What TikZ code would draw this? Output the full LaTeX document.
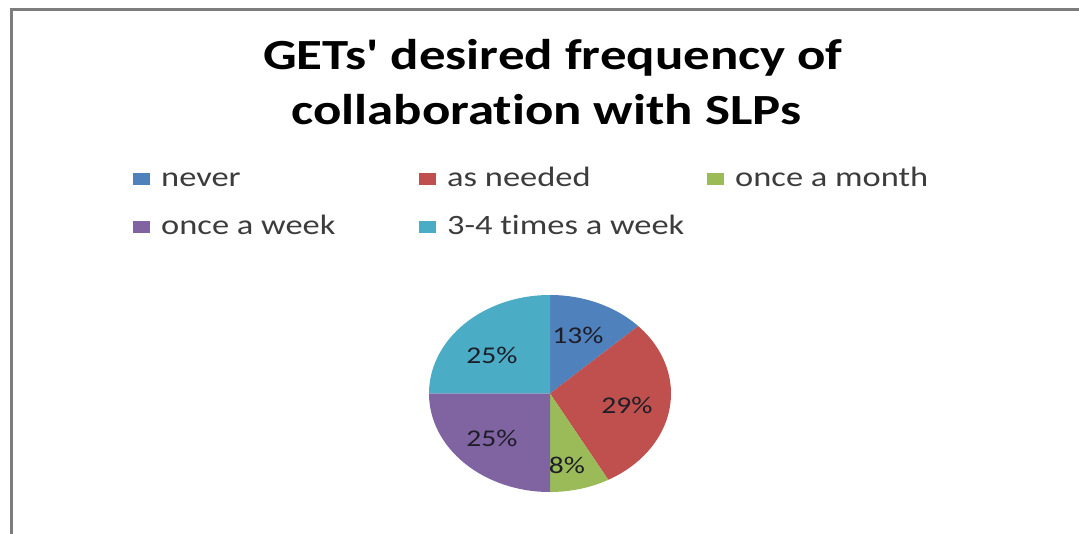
\documentclass[tikz,border=0pt]{standalone}
\usepackage{fontspec}
\setmainfont{Carlito}[FakeStretch=1.23, Ligatures={TeXOff,NoCommon}]
\usepackage{tikz}
\usetikzlibrary{calc}
\definecolor{slblue}{RGB}{79, 129, 189}
\definecolor{slred}{RGB}{192, 80, 77}
\definecolor{slgreen}{RGB}{155, 187, 89}
\definecolor{slpurple}{RGB}{128, 100, 162}
\definecolor{slcyan}{RGB}{75, 172, 198}
\definecolor{framegray}{RGB}{125, 125, 125}
\definecolor{legtxt}{RGB}{60, 60, 60}
\definecolor{pietxt}{RGB}{30, 30, 40}
\tikzset{
  legtext/.style = {anchor = base west, inner sep = 0pt, text = legtxt, font = \fontsize{28}{30}\selectfont},
  legbox/.style = {inner sep = 0pt, minimum width = 17pt, minimum height = 12pt},
  pielab/.style = {inner sep = 0pt, text = pietxt, font = \fontsize{24}{26}\selectfont},
  ttl/.style = {anchor = base, inner sep = 0pt, font = \bfseries\fontsize{43}{55}\selectfont}
}

\begin{document}
\begin{tikzpicture}[x = 1pt, y = 1pt]
\useasboundingbox (0,0) rectangle (1079,533);
\draw[framegray, line width = 3pt] (11,-5) |- (1085,523.5);
% title
\node[ttl] (title1) at (553,463) {GETs' desired frequency of};
\node[ttl] (title2) at (546,408) {collaboration with SLPs};
% legend
\node[legbox, fill = slblue] (nvbox) at (141,354) {};
\node[legtext] (nvtext) at (161,346) {never};
\node[legbox, fill = slred] (asbox) at (427,354) {};
\node[legtext] (astext) at (447,346) {as needed};
\node[legbox, fill = slgreen] (mobox) at (715,354) {};
\node[legtext] (motext) at (735,346) {once a month};
\node[legbox, fill = slpurple] (wkbox) at (141,306) {};
\node[legtext] (wktext) at (161,298) {once a week};
\node[legbox, fill = slcyan] (tmbox) at (427,306) {};
\node[legtext] (tmtext) at (447,298) {3-4 times a week};
% pie
\coordinate (pc) at (550,139.5);
\fill[slblue] (pc) -- ++(90:121pt and 98.5pt) arc[start angle = 90, end angle = 43.2, x radius = 121pt, y radius = 98.5pt] -- cycle;
\fill[slred] (pc) -- ++(43.2:121pt and 98.5pt) arc[start angle = 43.2, end angle = -61.2, x radius = 121pt, y radius = 98.5pt] -- cycle;
\fill[slgreen] (pc) -- ++(-61.2:121pt and 98.5pt) arc[start angle = -61.2, end angle = -90, x radius = 121pt, y radius = 98.5pt] -- cycle;
\fill[slpurple] (pc) -- ++(-90:121pt and 98.5pt) arc[start angle = -90, end angle = -180, x radius = 121pt, y radius = 98.5pt] -- cycle;
\fill[slcyan] (pc) -- ++(180:121pt and 98.5pt) arc[start angle = 180, end angle = 90, x radius = 121pt, y radius = 98.5pt] -- cycle;
\node[pielab] (pnv) at (578,198) {13\%};
\node[pielab] (pas) at (627,128) {29\%};
\node[pielab] (pmo) at (567,68) {8\%};
\node[pielab] (pwk) at (492,95) {25\%};
\node[pielab] (ptm) at (492,178) {25\%};
\end{tikzpicture}
\end{document}
